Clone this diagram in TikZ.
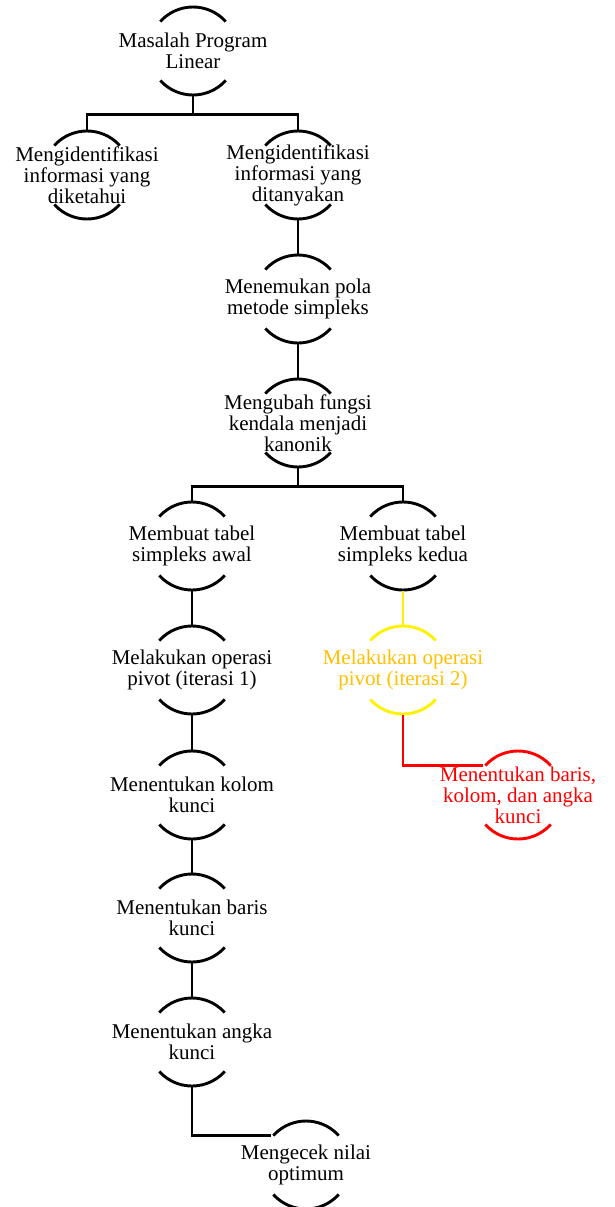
\documentclass[tikz,border=0pt]{standalone}
\usepackage{fontspec}
\setmainfont{Liberation Serif}
\usepackage{tikz}
\definecolor{gold}{HTML}{FFC000}

\tikzset{
    bub/.style={circle, draw, minimum size=88pt, inner sep=0pt,
        dash pattern=on 73.72pt off 64.51pt, dash phase=105.98pt},
    txt/.style={align=center, inner sep=0pt, font=\fontsize{21pt}{21pt}\selectfont},
}

\begin{document}
\begin{tikzpicture}[x=1pt,y=-1pt,line width=2.9pt]
    \useasboundingbox (0,0) rectangle (614,1207);

    \node[bub, label={[txt]center:{Masalah Program\\Linear}}] (masalah) at (193,51) {};
    \node[bub, label={[txt]center:{Mengidentifikasi\\informasi yang\\diketahui}}] (tahu) at (87,175) {};
    \node[bub, label={[txt]center:{Mengidentifikasi\\informasi yang\\ditanyakan}}] (tanya) at (298,175) {};
    \node[bub, label={[txt]center:{Menemukan pola\\metode simpleks}}] (pola) at (298,299) {};
    \node[bub, label={[txt]center:{Mengubah fungsi\\kendala menjadi\\kanonik}}] (kanonik) at (298,423) {};
    \node[bub, label={[txt]center:{Membuat tabel\\simpleks awal}}] (awal) at (192,546) {};
    \node[bub, label={[txt]center:{Membuat tabel\\simpleks kedua}}] (kedua) at (403,546) {};
    \node[bub, label={[txt]center:{Melakukan operasi\\pivot (iterasi 1)}}] (pivot1) at (192,670) {};
    \node[bub, draw=yellow, label={[txt, text=gold]center:{Melakukan operasi\\pivot (iterasi 2)}}] (pivot2) at (403,670) {};
    \node[bub, draw=red, label={[txt, text=red]center:{Menentukan baris,\\kolom, dan angka\\kunci}}] (semua) at (518,795) {};
    \node[bub, label={[txt]center:{Menentukan kolom\\kunci}}] (kolom) at (192,795) {};
    \node[bub, label={[txt]center:{Menentukan baris\\kunci}}] (baris) at (192,918) {};
    \node[bub, label={[txt]center:{Menentukan angka\\kunci}}] (angka) at (192,1042) {};
    \node[bub, label={[txt]center:{Mengecek nilai\\optimum}}] (optimum) at (306,1165) {};

    \foreach \k/\l in {masalah/tahu, masalah/tanya, kanonik/awal, kanonik/kedua}{
        \draw(\k.south)--++(0,18)-|(\l.north);
    }
    \foreach \k/\l in {tanya/pola, pola/kanonik, awal/pivot1, pivot1/kolom, kolom/baris, baris/angka}{\draw(\k.south)--(\l.north);}
    \draw[yellow](kedua.south)--(pivot2.north);
    \draw[red](pivot2.south)|-(semua.140);
    \draw(angka.south)|-(optimum.140);
\end{tikzpicture}
\end{document}
